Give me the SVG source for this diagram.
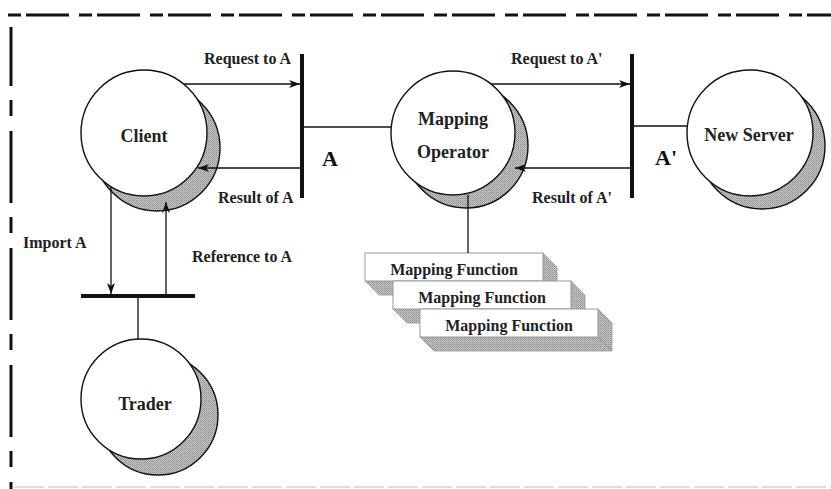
<svg xmlns="http://www.w3.org/2000/svg" width="831" height="489" viewBox="0 0 831 489">
<style>
  .lbl { font-family: "Liberation Serif", "Times New Roman", serif; font-weight: bold; font-size: 16px; fill: #222; }
  .node-lbl { font-family: "Liberation Serif", "Times New Roman", serif; font-weight: bold; font-size: 18px; fill: #222; text-anchor: middle; }
  .big { font-family: "Liberation Serif", "Times New Roman", serif; font-weight: bold; font-size: 22px; fill: #111; }
  .shadow { fill: url(#stipple); stroke: #111; stroke-width: 1.4; }
  .face { fill: #fff; stroke: #111; stroke-width: 1.4; }
  .conn { stroke: #111; stroke-width: 1.3; fill: none; }
  .bar { stroke: #111; stroke-width: 4; fill: none; }
  .box-front { fill: #fff; stroke: #999; stroke-width: 1; }
  .box-side { fill: url(#stipple); stroke: #999; stroke-width: 0.8; }
</style>
<defs>
  <pattern id="stipple" width="2" height="2" patternUnits="userSpaceOnUse">
    <rect width="2" height="2" fill="#c4c4c4"/>
    <rect width="1" height="1" fill="#8e8e8e"/>
    <rect x="1" y="1" width="1" height="1" fill="#a6a6a6"/>
  </pattern>
  <marker id="arrow" markerUnits="userSpaceOnUse" markerWidth="12" markerHeight="8" refX="11" refY="4" orient="auto">
    <path d="M0,0 L11,4 L0,8 L3,4 z" fill="#111"/>
  </marker>
</defs>

<rect width="831" height="489" fill="#fff"/>

<!-- frame -->
<g id="frame">
  <line x1="8" y1="15" x2="831" y2="15" stroke="#111" stroke-width="3" stroke-dasharray="13 5 43 10"/>
  <line x1="11" y1="27" x2="11" y2="489" stroke="#111" stroke-width="3" stroke-dasharray="72 14 16 15" stroke-dashoffset="13"/>
  <line x1="14" y1="487" x2="831" y2="487" stroke="#d4d4d4" stroke-width="1.5" stroke-dasharray="30 4"/>
</g>

<!-- nodes -->
<g id="client">
  <circle class="shadow" cx="157" cy="148" r="63"/>
  <circle class="face" cx="144" cy="133" r="63"/>
  <text class="node-lbl" x="144" y="142">Client</text>
</g>
<g id="mapping-operator">
  <circle class="shadow" cx="466" cy="146" r="62"/>
  <circle class="face" cx="453" cy="133" r="62"/>
  <text class="node-lbl" x="453" y="125">Mapping</text>
  <text class="node-lbl" x="453" y="158">Operator</text>
</g>
<g id="new-server">
  <circle class="shadow" cx="762" cy="146" r="63"/>
  <circle class="face" cx="750" cy="133" r="63"/>
  <text class="node-lbl" x="749" y="141">New Server</text>
</g>
<g id="trader">
  <circle class="shadow" cx="158" cy="415" r="60"/>
  <circle class="face" cx="141" cy="399" r="60"/>
  <text class="node-lbl" x="145" y="410">Trader</text>
</g>

<g id="interface-A">
  <line class="bar" x1="302" y1="54" x2="302" y2="198"/>
  <text class="big" x="322" y="166">A</text>
</g>
<g id="interface-A-prime">
  <line class="bar" x1="632" y1="54" x2="632" y2="198"/>
  <text class="big" x="655" y="165">A'</text>
</g>
<g id="trader-bar">
  <line class="bar" x1="81" y1="296" x2="195" y2="296"/>
</g>

<g id="mapping-function-1">
  <polygon class="box-side" points="543,253 557,267 557,295 543,281"/>
  <polygon class="box-side" points="365,281 543,281 557,295 379,295"/>
  <rect class="box-front" x="365" y="253" width="178" height="28"/>
  <text class="lbl" x="454" y="275" text-anchor="middle">Mapping Function</text>
</g>
<g id="mapping-function-2">
  <polygon class="box-side" points="571,281 585,295 585,323 571,309"/>
  <polygon class="box-side" points="393,309 571,309 585,323 407,323"/>
  <rect class="box-front" x="393" y="281" width="178" height="28"/>
  <text class="lbl" x="482" y="303" text-anchor="middle">Mapping Function</text>
</g>
<g id="mapping-function-3">
  <polygon class="box-side" points="598,309 612,323 612,351 598,337"/>
  <polygon class="box-side" points="420,337 598,337 612,351 434,351"/>
  <rect class="box-front" x="420" y="309" width="178" height="28"/>
  <text class="lbl" x="509" y="331" text-anchor="middle">Mapping Function</text>
</g>

<!-- connectors -->
<g id="connectors">
  <line class="conn" x1="184" y1="84" x2="300" y2="84" marker-end="url(#arrow)"/>
  <line class="conn" x1="300" y1="168" x2="198" y2="168" marker-end="url(#arrow)"/>
  <line class="conn" x1="304" y1="127" x2="391" y2="127"/>
  <line class="conn" x1="491" y1="84" x2="630" y2="84" marker-end="url(#arrow)"/>
  <line class="conn" x1="630" y1="168" x2="515" y2="168" marker-end="url(#arrow)"/>
  <line class="conn" x1="634" y1="126" x2="687" y2="126"/>
  <line class="conn" x1="468" y1="195" x2="468" y2="253"/>
  <line class="conn" x1="111" y1="187" x2="111" y2="294" marker-end="url(#arrow)"/>
  <line class="conn" x1="166" y1="294" x2="166" y2="202" marker-end="url(#arrow)"/>
  <line class="conn" x1="138" y1="298" x2="138" y2="339"/>
  <text class="lbl" x="204" y="64">Request to A</text>
  <text class="lbl" x="218" y="203">Result of A</text>
  <text class="lbl" x="511" y="64">Request to A'</text>
  <text class="lbl" x="532" y="203">Result of A'</text>
  <text class="lbl" x="23" y="248">Import A</text>
  <text class="lbl" x="192" y="262">Reference to A</text>
</g>
</svg>
